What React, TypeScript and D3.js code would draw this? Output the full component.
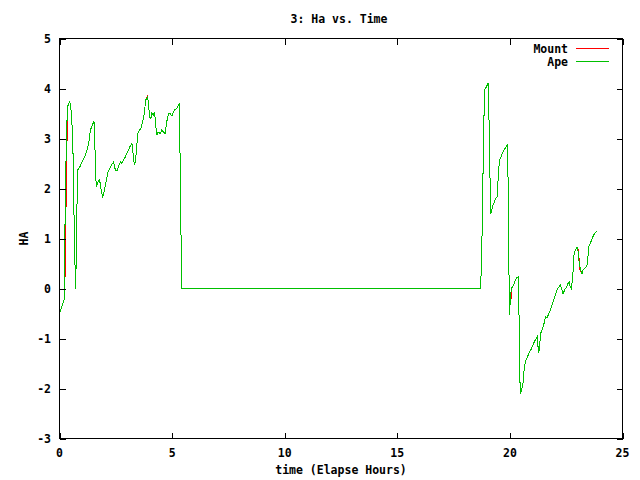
import React from "react";
import * as d3 from "d3";

const title = "3: Ha vs. Time";
const xLabel = "time (Elapse Hours)";
const yLabel = "HA";
const xTicks = [0, 5, 10, 15, 20, 25];
const yTicks = [-3, -2, -1, 0, 1, 2, 3, 4, 5];

const apeTime = [
  0.0, 0.22, 0.225, 0.265, 0.31, 0.35, 0.37, 0.45, 0.52, 0.59, 0.63, 0.68, 0.72, 0.74, 0.78, 0.81,
  0.9, 1.0, 1.08, 1.15, 1.22, 1.3, 1.34, 1.4, 1.46, 1.52, 1.56, 1.59, 1.64, 1.7, 1.77, 1.81,
  1.86, 1.92, 1.96, 2.04, 2.11, 2.15, 2.26, 2.35, 2.4, 2.48, 2.55, 2.63, 2.7, 2.77, 2.85, 2.92,
  2.99, 3.07, 3.14, 3.22, 3.29, 3.33, 3.38, 3.44, 3.48, 3.55, 3.61, 3.67, 3.73, 3.78, 3.83, 3.91,
  3.95, 4.0, 4.06, 4.1, 4.17, 4.22, 4.26, 4.32, 4.37, 4.47, 4.54, 4.62, 4.69, 4.76, 4.84, 4.91,
  4.99, 5.06, 5.13, 5.21, 5.28, 5.32, 5.35, 5.4, 5.43,
  18.7, 18.73, 18.78, 18.83, 18.88, 18.95, 19.03, 19.07, 19.12, 19.15, 19.19, 19.25, 19.31, 19.37,
  19.44, 19.49, 19.54, 19.6, 19.66, 19.73, 19.81, 19.88, 19.93, 19.96, 19.97, 20.0, 20.01, 20.04,
  20.07, 20.13, 20.19, 20.25, 20.32, 20.37, 20.4, 20.43, 20.46, 20.52, 20.58, 20.62, 20.66, 20.72,
  20.78, 20.84, 20.9, 20.96, 21.02, 21.08, 21.14, 21.21, 21.25, 21.28, 21.33, 21.36, 21.43, 21.5,
  21.58, 21.65, 21.73, 21.8, 21.87, 21.95, 22.02, 22.09, 22.17, 22.24, 22.32, 22.36, 22.43, 22.51,
  22.58, 22.64, 22.68, 22.73, 22.79, 22.85, 22.91, 22.98, 23.02, 23.05, 23.1, 23.14, 23.2, 23.25,
  23.32, 23.39, 23.44, 23.5, 23.57, 23.65, 23.72, 23.79, 23.86,
];
const apeHa = [
  -0.5, -0.2, 0.57, 2.0, 3.0, 3.6, 3.65, 3.75, 3.55, 3.0, 1.83, 0.6, 0.0, 0.6, 1.77, 2.37,
  2.43, 2.53, 2.6, 2.67, 2.77, 2.9, 3.07, 3.2, 3.27, 3.33, 3.3, 2.37, 2.03, 2.13, 2.17, 2.1,
  1.93, 1.83, 1.9, 2.07, 2.23, 2.33, 2.43, 2.5, 2.53, 2.37, 2.35, 2.45, 2.53, 2.5, 2.57, 2.63,
  2.7, 2.77, 2.85, 2.9, 2.6, 2.47, 2.57, 2.9, 3.1, 3.17, 3.2, 3.3, 3.4, 3.57, 3.77, 3.83,
  3.7, 3.43, 3.4, 3.5, 3.47, 3.53, 3.33, 3.07, 3.13, 3.1, 3.17, 3.13, 3.1, 3.33, 3.5, 3.5,
  3.45, 3.53, 3.58, 3.6, 3.67, 3.69, 2.77, 0.93, 0.0,
  0.0, 0.43, 1.43, 3.1, 3.97, 4.03, 4.1, 3.43, 2.13, 1.5, 1.57, 1.67, 1.73, 1.8,
  1.83, 2.33, 2.57, 2.63, 2.7, 2.77, 2.82, 2.87, 2.0, 0.33, -0.53, -0.07, -0.33, -0.1,
  0.0, 0.05, 0.1, 0.17, 0.22, 0.23, -0.37, -1.5, -2.1, -2.03, -1.9, -1.67, -1.53, -1.43,
  -1.37, -1.3, -1.25, -1.2, -1.13, -1.07, -1.02, -0.97, -1.17, -1.29, -1.1, -0.9, -0.83, -0.73,
  -0.57, -0.58, -0.5, -0.43, -0.33, -0.23, -0.13, -0.03, 0.03, 0.07, -0.03, -0.11, -0.03, 0.03,
  0.1, 0.13, 0.03, 0.0, 0.23, 0.7, 0.77, 0.83, 0.77, 0.6, 0.47, 0.37, 0.29, 0.37,
  0.4, 0.43, 0.5, 0.83, 0.9, 1.0, 1.07, 1.12, 1.15,
];

const mountTime = [
  0.0, 0.22, 0.265, 0.265, 0.3, 0.3, 0.34, 0.34, 0.37, 0.45, 0.52, 0.59, 0.63, 0.68, 0.72, 0.74,
  0.78, 0.81, 0.9, 1.0, 1.08, 1.15, 1.22, 1.3, 1.34, 1.4, 1.46, 1.52, 1.56, 1.59, 1.64, 1.7,
  1.77, 1.81, 1.86, 1.92, 1.96, 2.04, 2.11, 2.15, 2.26, 2.35, 2.4, 2.48, 2.55, 2.63, 2.7, 2.77,
  2.85, 2.92, 2.99, 3.07, 3.14, 3.22, 3.29, 3.33, 3.38, 3.44, 3.48, 3.55, 3.61, 3.67, 3.73, 3.78,
  3.83, 3.91, 3.95, 4.0, 4.06, 4.1, 4.17, 4.22, 4.26, 4.32, 4.37, 4.47, 4.54, 4.62, 4.69, 4.76,
  4.84, 4.91, 4.99, 5.06, 5.13, 5.21, 5.28, 5.32, 5.35, 5.4, 5.43,
  18.7, 18.73, 18.78, 18.83, 18.88, 18.95, 19.03, 19.07, 19.12, 19.16, 19.19, 19.25, 19.31, 19.37,
  19.44, 19.49, 19.54, 19.6, 19.66, 19.73, 19.81, 19.88, 19.93, 19.96, 19.97, 20.0, 20.01, 20.05,
  20.07, 20.13, 20.19, 20.25, 20.32, 20.37, 20.4, 20.43, 20.46, 20.52, 20.58, 20.62, 20.66, 20.72,
  20.78, 20.84, 20.9, 20.96, 21.02, 21.08, 21.14, 21.21, 21.25, 21.28, 21.33, 21.36, 21.43, 21.5,
  21.58, 21.65, 21.73, 21.8, 21.87, 21.95, 22.02, 22.09, 22.17, 22.24, 22.32, 22.36, 22.43, 22.51,
  22.58, 22.64, 22.68, 22.73, 22.79, 22.85, 22.91, 22.98, 23.04, 23.04, 23.08, 23.08, 23.16, 23.25,
  23.32, 23.39, 23.44, 23.5, 23.57, 23.65, 23.72, 23.79, 23.86,
];
const mountHa = [
  -0.5, -0.2, 0.57, 0.78, 2.0, 2.63, 3.0, 3.63, 3.65, 3.75, 3.55, 3.0, 1.83, 0.6, 0.0, 0.6,
  1.77, 2.37, 2.43, 2.53, 2.6, 2.67, 2.77, 2.9, 3.07, 3.2, 3.27, 3.33, 3.3, 2.37, 2.03, 2.13,
  2.17, 2.1, 1.93, 1.83, 1.9, 2.07, 2.23, 2.33, 2.43, 2.5, 2.53, 2.37, 2.35, 2.45, 2.53, 2.5,
  2.57, 2.63, 2.7, 2.77, 2.85, 2.9, 2.6, 2.47, 2.57, 2.9, 3.1, 3.17, 3.2, 3.3, 3.4, 3.57,
  3.77, 3.86, 3.7, 3.43, 3.4, 3.5, 3.47, 3.53, 3.33, 3.07, 3.13, 3.1, 3.17, 3.13, 3.1, 3.33,
  3.5, 3.5, 3.45, 3.53, 3.58, 3.6, 3.67, 3.69, 2.77, 0.93, 0.0,
  0.0, 0.43, 1.43, 3.1, 3.97, 4.03, 4.1, 3.43, 2.13, 1.55, 1.57, 1.67, 1.73, 1.8,
  1.83, 2.33, 2.57, 2.63, 2.7, 2.77, 2.82, 2.87, 2.0, 0.33, -0.53, -0.07, -0.33, -0.2,
  0.0, 0.05, 0.1, 0.17, 0.22, 0.23, -0.37, -1.5, -2.1, -2.03, -1.9, -1.67, -1.53, -1.43,
  -1.37, -1.3, -1.25, -1.2, -1.13, -1.07, -1.02, -0.97, -1.17, -1.29, -1.1, -0.9, -0.83, -0.73,
  -0.57, -0.58, -0.5, -0.43, -0.33, -0.23, -0.13, -0.03, 0.03, 0.07, -0.03, -0.11, -0.03, 0.03,
  0.1, 0.13, 0.03, 0.0, 0.23, 0.7, 0.77, 0.83, 0.77, 0.6, 0.6, 0.4, 0.33, 0.37,
  0.4, 0.43, 0.5, 0.83, 0.9, 1.0, 1.07, 1.12, 1.15,
];

const series = [
  { name: "Mount", color: "#ff0000", time: mountTime, ha: mountHa },
  { name: "Ape", color: "#00c000", time: apeTime, ha: apeHa },
];

const W = 640;
const H = 480;
const left = 59.5;
const right = 622.5;
const top = 38.5;
const bottom = 438.5;
const font = "'DejaVu Sans Mono', 'Liberation Mono', monospace";

export default function App() {
  const x = d3.scaleLinear().domain([0, 25]).range([left, right]);
  const y = d3.scaleLinear().domain([-3, 5]).range([bottom, top]);
  const tick = 6;

  const lineGen = (t: number[], v: number[]) =>
    d3
      .line<number>()
      .x((_, i) => x(t[i]))
      .y((d) => y(d))(v) || "";

  return (
    <svg
      width={W}
      height={H}
      style={{ position: "absolute", left: 0, top: 0, background: "#fff" }}
      fontFamily={font}
      fontWeight="bold"
      fontSize={11.5}
    >
      <rect x={0} y={0} width={W} height={H} fill="#fff" />
      {series.map((s) => (
        <path
          key={s.name}
          d={lineGen(s.time, s.ha)}
          fill="none"
          stroke={s.color}
          strokeWidth={1}
          shapeRendering="crispEdges"
        />
      ))}
      <rect
        x={left}
        y={top}
        width={right - left}
        height={bottom - top}
        fill="none"
        stroke="#000"
        strokeWidth={1}
        shapeRendering="crispEdges"
      />
      {xTicks.map((t) => (
        <g key={"x" + t} shapeRendering="crispEdges">
          <line x1={Math.round(x(t)) + 0.5} x2={Math.round(x(t)) + 0.5} y1={bottom} y2={bottom - tick} stroke="#000" />
          <line x1={Math.round(x(t)) + 0.5} x2={Math.round(x(t)) + 0.5} y1={top} y2={top + tick} stroke="#000" />
          <text x={x(t)} y={457} textAnchor="middle" fill="#000">
            {t}
          </text>
        </g>
      ))}
      {yTicks.map((t) => (
        <g key={"y" + t} shapeRendering="crispEdges">
          <line x1={left} x2={left + tick} y1={Math.round(y(t)) + 0.5} y2={Math.round(y(t)) + 0.5} stroke="#000" />
          <line x1={right} x2={right - tick} y1={Math.round(y(t)) + 0.5} y2={Math.round(y(t)) + 0.5} stroke="#000" />
          <text x={51} y={y(t) + 4} textAnchor="end" fill="#000">
            {t}
          </text>
        </g>
      ))}
      <text x={339} y={23} textAnchor="middle" fill="#000">
        {title}
      </text>
      <text x={341} y={474} textAnchor="middle" fill="#000">
        {xLabel}
      </text>
      <text
        transform={`translate(28, ${(top + bottom) / 2}) rotate(-90)`}
        textAnchor="middle"
        fill="#000"
      >
        {yLabel}
      </text>
      {series.map((s, i) => (
        <g key={"lg" + s.name}>
          <text x={568} y={53 + i * 13} textAnchor="end" fill="#000">
            {s.name}
          </text>
          <line
            x1={576}
            x2={609}
            y1={48.5 + i * 13}
            y2={48.5 + i * 13}
            stroke={s.color}
            strokeWidth={1}
            shapeRendering="crispEdges"
          />
        </g>
      ))}
    </svg>
  );
}
